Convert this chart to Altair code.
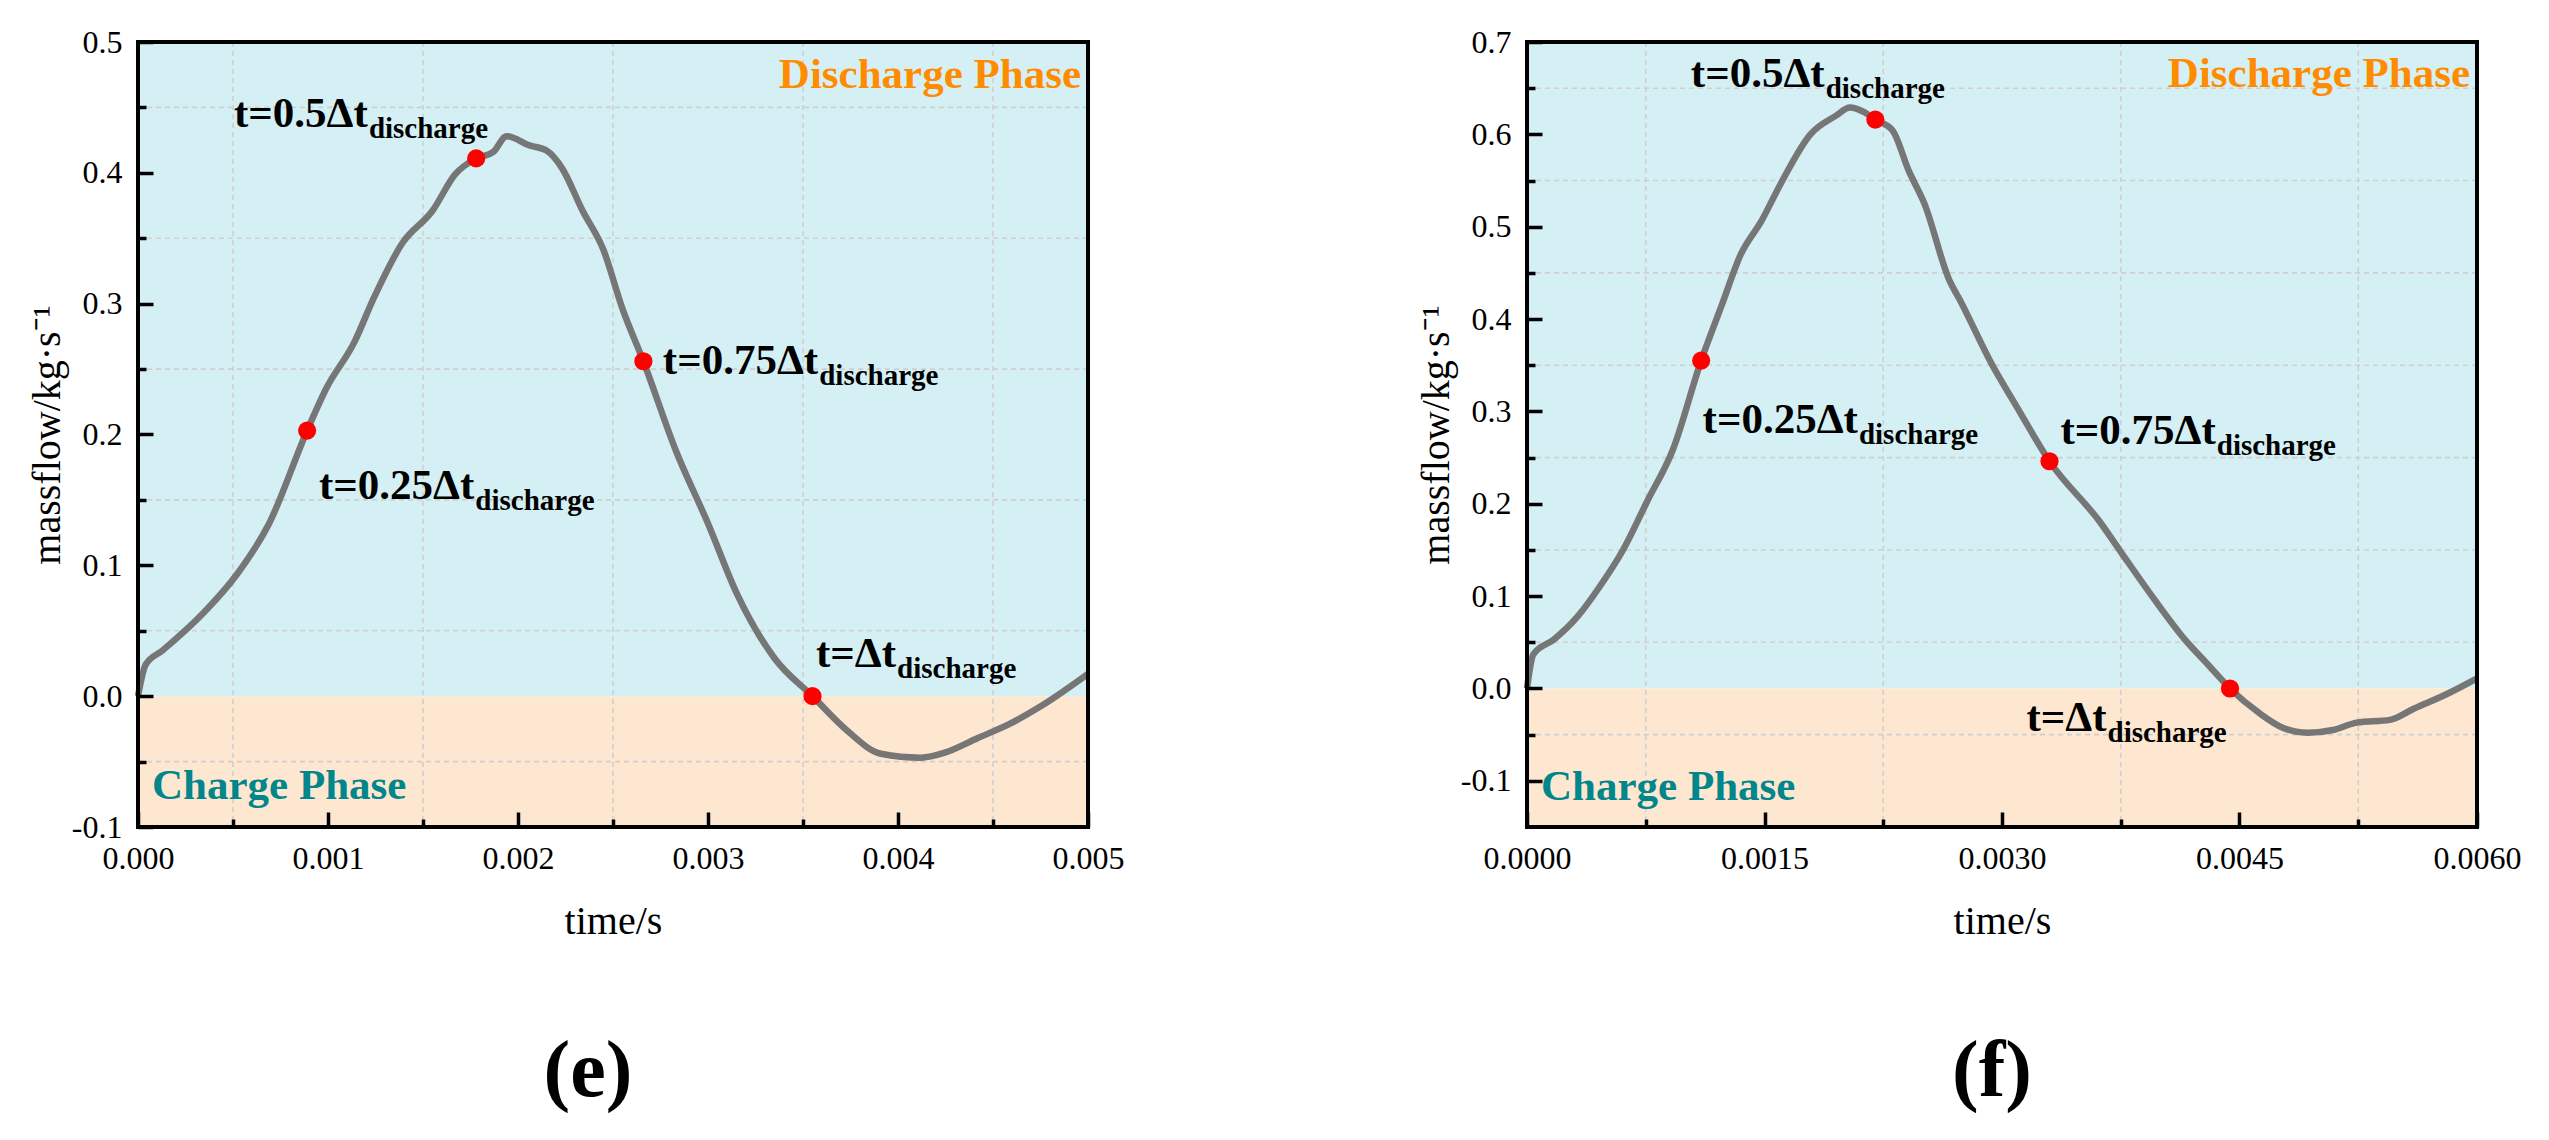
import altair as alt
import pandas as pd

FONT = "Liberation Serif, Times New Roman, serif"
CYAN = "#D4F0F4"
PEACH = "#FDE7D1"
LINE_C = "#767676"
DOT_C = "#FF0000"
ORANGE = "#FF8C00"
TEAL = "#00868B"
GRID_C = "#CFCFCF"

W, H = 950, 785

# ---------------- panel (e) ----------------
e_time = [0, 0.00004, 0.00013, 0.00034, 0.00052, 0.00069, 0.00089, 0.00099, 0.00114,
          0.00124, 0.00139, 0.00155, 0.00167, 0.00178, 0.00187, 0.00194, 0.00206, 0.00215,
          0.00223, 0.00234, 0.00245, 0.00255, 0.00266, 0.00283, 0.00300, 0.00315, 0.00335,
          0.00355, 0.00373, 0.00391, 0.00412, 0.00425, 0.00442, 0.00459, 0.00476, 0.005]
e_flow = [0, 0.024, 0.035, 0.063, 0.093, 0.132, 0.203, 0.235, 0.271,
          0.304, 0.346, 0.371, 0.399, 0.411, 0.416, 0.428, 0.421, 0.417,
          0.404, 0.371, 0.341, 0.296, 0.256, 0.188, 0.132, 0.079, 0.029,
          0.0, -0.026, -0.044, -0.047, -0.043, -0.032, -0.021, -0.007, 0.017]
e_dot_t = [0.00089, 0.00178, 0.00266, 0.00355]
e_dot_m = [0.203, 0.411, 0.256, 0.0]
e_lab_main = ["t=0.25\u0394t", "t=0.5\u0394t", "t=0.75\u0394t", "t=\u0394t"]
e_lab_sub = ["discharge", "discharge", "discharge", "discharge"]
e_lab_x = [0.00177, 0.00121, 0.00358, 0.00399]
e_lab_y = [0.161, 0.445, 0.256, 0.032]
e_xdom = [0, 0.005]
e_ydom = [-0.1, 0.5]
e_xmajor = [0, 0.001, 0.002, 0.003, 0.004, 0.005]
e_xminor = [0.0005, 0.0015, 0.0025, 0.0035, 0.0045]
e_ymajor = [-0.1, 0.0, 0.1, 0.2, 0.3, 0.4, 0.5]
e_yminor = [-0.05, 0.05, 0.15, 0.25, 0.35, 0.45]
e_phase_y = [0.475, -0.069]  # discharge, charge

# ---------------- panel (f) ----------------
f_time = [0, 0.00004, 0.00017, 0.00032, 0.00045, 0.00061, 0.00076, 0.00092, 0.00110,
          0.00123, 0.00135, 0.00148, 0.00161, 0.00179, 0.00195, 0.00204, 0.00213, 0.00220,
          0.00231, 0.00241, 0.00251, 0.00267, 0.00273, 0.00293, 0.00310, 0.00330, 0.00362,
          0.00375, 0.00396, 0.00415, 0.00430, 0.00444, 0.00462, 0.00478, 0.00493, 0.00509,
          0.00524, 0.00545, 0.00560, 0.00581, 0.006]
f_flow = [0, 0.037, 0.053, 0.078, 0.108, 0.151, 0.203, 0.258, 0.355,
          0.415, 0.470, 0.506, 0.549, 0.600, 0.620, 0.629, 0.624, 0.616,
          0.604, 0.561, 0.525, 0.441, 0.422, 0.353, 0.303, 0.246, 0.180,
          0.148, 0.097, 0.054, 0.026, 0.0, -0.026, -0.043, -0.048, -0.045,
          -0.037, -0.034, -0.022, -0.006, 0.011]
f_dot_t = [0.00110, 0.00220, 0.00330, 0.00444]
f_dot_m = [0.355, 0.616, 0.246, 0.0]
f_lab_main = ["t=0.25\u0394t", "t=0.5\u0394t", "t=0.75\u0394t", "t=\u0394t"]
f_lab_sub = ["discharge", "discharge", "discharge", "discharge"]
f_lab_x = [0.00209, 0.00188, 0.00435, 0.00366]
f_lab_y = [0.291, 0.665, 0.279, -0.032]
f_xdom = [0, 0.006]
f_ydom = [-0.15, 0.7]
f_xmajor = [0, 0.0015, 0.003, 0.0045, 0.006]
f_xminor = [0.00075, 0.00225, 0.00375, 0.00525]
f_ymajor = [-0.1, 0.0, 0.1, 0.2, 0.3, 0.4, 0.5, 0.6, 0.7]
f_yminor = [-0.05, 0.05, 0.15, 0.25, 0.35, 0.45, 0.55, 0.65]
f_phase_y = [0.665, -0.107]

phase_text = ["Discharge Phase", "Charge Phase"]


def panel(time, flow, dot_t, dot_m, lab_main, lab_sub, lab_x, lab_y,
          xdom, ydom, xmajor, xminor, ymajor, yminor, phase_y, xfmt, title, title_dx):
    sx = alt.Scale(domain=xdom, nice=False, zero=False)
    sy = alt.Scale(domain=ydom, nice=False, zero=False)

    bg_df = pd.DataFrame({
        "x0": [xdom[0], xdom[0]], "x1": [xdom[1], xdom[1]],
        "y0": [0.0, ydom[0]], "y1": [ydom[1], 0.0],
        "phase": ["Discharge", "Charge"],
    })
    xaxis_major = alt.Axis(
        orient="bottom", values=xmajor, format=xfmt, offset=-15, tickSize=15, tickWidth=3.5,
        tickColor="black", domain=False, grid=False, labelPadding=16, labelFont=FONT,
        labelFontSize=32, labelColor="black", labelFlush=False, labelOverlap=False,
        labelBound=False, title="time/s", titleFont=FONT, titleFontSize=40,
        titleFontWeight="normal", titleColor="black", titlePadding=27, zindex=1)
    yaxis_major = alt.Axis(
        orient="left", values=ymajor, offset=-15, tickSize=15, tickWidth=3.5,
        tickColor="black", domain=False, grid=False, labelPadding=16, labelFont=FONT,
        labelFontSize=32, labelColor="black", labelFlush=False, labelOverlap=False,
        labelBound=False,
        labelExpr="datum.value < 0 ? '-' + format(-datum.value, '.1f') : format(datum.value, '.1f')",
        title="massflow/kg\u00b7s\u207b\u00b9", titleFont=FONT, titleFontSize=40,
        titleFontWeight="normal", titleColor="black", titlePadding=4, zindex=1)

    bg = alt.Chart(bg_df).mark_rect().encode(
        x=alt.X("x0:Q", scale=sx, axis=xaxis_major),
        x2="x1:Q",
        y=alt.Y("y0:Q", scale=sy, axis=yaxis_major),
        y2="y1:Q",
        color=alt.Color("phase:N", scale=alt.Scale(domain=["Discharge", "Charge"],
                                                    range=[CYAN, PEACH]), legend=None),
    )

    gx_df = pd.DataFrame({"gx": xminor})
    grid_x = alt.Chart(gx_df).mark_rule(color=GRID_C, strokeWidth=1.6, strokeDash=[5, 4]).encode(
        x=alt.X("gx:Q", scale=sx, axis=alt.Axis(
            orient="bottom", values=xminor, offset=-8, tickSize=8, tickWidth=3.5,
            tickColor="black", labels=False, domain=False, grid=False, title=None, zindex=1)),
    )
    gy_df = pd.DataFrame({"gy": yminor})
    grid_y = alt.Chart(gy_df).mark_rule(color=GRID_C, strokeWidth=1.6, strokeDash=[5, 4]).encode(
        y=alt.Y("gy:Q", scale=sy, axis=alt.Axis(
            orient="left", values=yminor, offset=-8, tickSize=8, tickWidth=3.5,
            tickColor="black", labels=False, domain=False, grid=False, title=None, zindex=1)),
    )

    line_df = pd.DataFrame({"t": time, "m": flow})
    line = alt.Chart(line_df).mark_line(color=LINE_C, strokeWidth=6.5, interpolate="monotone").encode(
        x=alt.X("t:Q", scale=sx, axis=None),
        y=alt.Y("m:Q", scale=sy, axis=None),
    )

    dot_df = pd.DataFrame({"t": dot_t, "m": dot_m})
    dots = alt.Chart(dot_df).mark_point(filled=True, color=DOT_C, size=330, opacity=1).encode(
        x=alt.X("t:Q", scale=sx, axis=None),
        y=alt.Y("m:Q", scale=sy, axis=None),
    )

    lab_df = pd.DataFrame({"lx": lab_x, "ly": lab_y, "main": lab_main, "sub": lab_sub})
    lab_main_l = alt.Chart(lab_df).mark_text(
        font=FONT, fontSize=43, fontWeight="bold", align="right", baseline="middle",
        color="black").encode(
        x=alt.X("lx:Q", scale=sx, axis=None),
        y=alt.Y("ly:Q", scale=sy, axis=None),
        text="main:N",
    )
    lab_sub_l = alt.Chart(lab_df).mark_text(
        font=FONT, fontSize=29, fontWeight="bold", align="left", baseline="middle",
        color="black", dx=1, dy=15).encode(
        x=alt.X("lx:Q", scale=sx, axis=None),
        y=alt.Y("ly:Q", scale=sy, axis=None),
        text="sub:N",
    )

    ph_d = alt.Chart(pd.DataFrame({"px": [xdom[1]], "py": [phase_y[0]], "txt": [phase_text[0]]})).mark_text(
        font=FONT, fontSize=43, fontWeight="bold", align="right", baseline="middle",
        color=ORANGE, dx=-7).encode(
        x=alt.X("px:Q", scale=sx, axis=None),
        y=alt.Y("py:Q", scale=sy, axis=None),
        text="txt:N",
    )
    ph_c = alt.Chart(pd.DataFrame({"px": [xdom[0]], "py": [phase_y[1]], "txt": [phase_text[1]]})).mark_text(
        font=FONT, fontSize=43, fontWeight="bold", align="left", baseline="middle",
        color=TEAL, dx=14).encode(
        x=alt.X("px:Q", scale=sx, axis=None),
        y=alt.Y("py:Q", scale=sy, axis=None),
        text="txt:N",
    )

    frame = alt.Chart(pd.DataFrame({"k": [0]})).mark_rect(
        fillOpacity=0, stroke="black", strokeWidth=4).encode(
        x=alt.value(0), x2=alt.value(W), y=alt.value(0), y2=alt.value(H))

    return alt.layer(bg, grid_x, grid_y, line, dots, lab_main_l, lab_sub_l, ph_d, ph_c, frame).resolve_axis(
        x="independent", y="independent"
    ).properties(
        width=W, height=H,
        title=alt.TitleParams(text=title, orient="bottom", font=FONT, fontSize=80,
                              fontWeight="bold", color="black", offset=92,
                              frame="group", anchor="middle", dx=title_dx),
    )


left = panel(e_time, e_flow, e_dot_t, e_dot_m, e_lab_main, e_lab_sub, e_lab_x, e_lab_y,
             e_xdom, e_ydom, e_xmajor, e_xminor, e_ymajor, e_yminor, e_phase_y, ".3f", "(e)", -25)
right = panel(f_time, f_flow, f_dot_t, f_dot_m, f_lab_main, f_lab_sub, f_lab_x, f_lab_y,
              f_xdom, f_ydom, f_xmajor, f_xminor, f_ymajor, f_yminor, f_phase_y, ".4f", "(f)", -10)

chart = alt.hconcat(left, right, spacing=292).resolve_scale(
    x="independent", y="independent", color="independent"
).properties(
    padding={"left": 19, "top": 18, "right": 5, "bottom": 5},
    background="white",
).configure_view(stroke=None)

chart.save("out.html", embed_options={"renderer": "svg", "actions": False})
